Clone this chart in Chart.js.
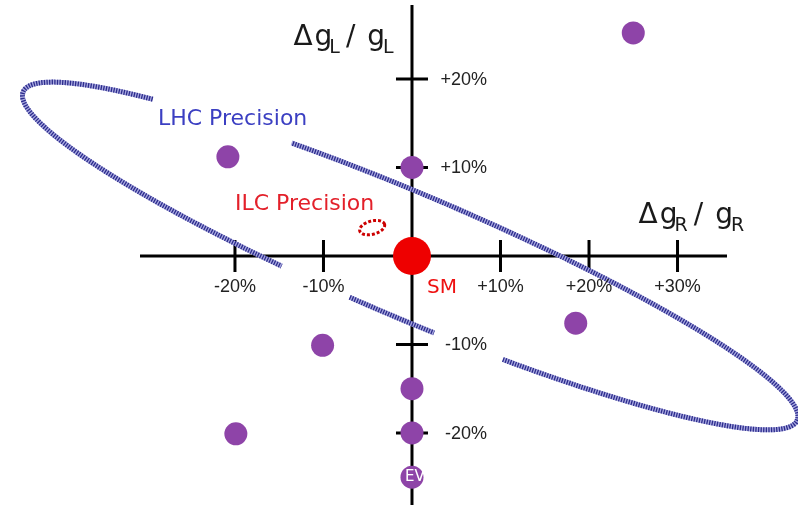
<!DOCTYPE html>
<html lang="en">
<head>
<meta charset="UTF-8">
<title>Coupling deviations</title>
<script src="https://cdn.jsdelivr.net/npm/chart.js"></script>
<style>
    html, body { margin: 0; padding: 0; background: white; }
    #wrap { width: 798px; height: 505px; }
</style>
</head>
<body>
<div id="wrap"><canvas id="chart" width="798" height="505"></canvas></div>
<script>
// model points, deviation of the couplings in %
const modelX = [25, -20.8, 0, 18.5, -10.1, 0, 0, -19.9, 0];
const modelY = [25.2, 11.2, 10, -7.6, -10.1, -15, -20, -20.1, -25];
const smX = [0];
const smY = [0];

// axis ticks
const xTicks = [-20, -10, 10, 20, 30];
const yTicks = [20, 10, -10, -20];
const tickText = v => (v > 0 ? '+' : '') + v + '%';

// precision regions (centre, half axes in %, tilt in degrees)
const lhc = { cx: -0.2, cy: 0, a: 47.5, b: 7, tilt: -23 };
const lhcGaps = [[-105.5, -95.4], [-82.5, -72.6], [111.5, 135.2]];
const ilc = { cx: -4.5, cy: 3.2, a: 1.45, b: 0.75, tilt: 15 };

function ellipseArc(ctx, xs, ys, e, from, to) {
    const r = e.tilt * Math.PI / 180;
    ctx.beginPath();
    for (let d = from; d <= to + 0.001; d += 0.5) {
        const t = d * Math.PI / 180;
        const u = e.a * Math.cos(t), w = e.b * Math.sin(t);
        const px = xs.getPixelForValue(e.cx + u * Math.cos(r) - w * Math.sin(r));
        const py = ys.getPixelForValue(e.cy + u * Math.sin(r) + w * Math.cos(r));
        if (d === from) ctx.moveTo(px, py); else ctx.lineTo(px, py);
    }
    ctx.stroke();
}

// text with a subscript, e.g. Δg_L / g_L
function fraction(ctx, xs, ys, x, y, sub) {
    let px = xs.getPixelForValue(x);
    const py = ys.getPixelForValue(y);
    const big = '28px "DejaVu Sans"', small = '19px "DejaVu Sans"';
    ctx.textAlign = 'left';
    ctx.textBaseline = 'alphabetic';
    ctx.fillStyle = '#1a1a1a';
    ctx.font = big; ctx.fillText('\u0394', px, py); px += ctx.measureText('\u0394').width + 2;
    ctx.fillText('g', px, py); px += ctx.measureText('g').width - 3;
    ctx.font = small; ctx.fillText(sub, px, py + 8); px += ctx.measureText(sub).width + 6;
    ctx.font = big; ctx.fillText('/', px, py); px += ctx.measureText('/').width + 12;
    ctx.fillText('g', px, py); px += ctx.measureText('g').width - 2;
    ctx.font = small; ctx.fillText(sub, px, py + 8);
}

const overlay = {
    id: 'overlay',
    beforeDatasetsDraw(chart) {
        const { ctx, chartArea: area, scales: { x, y } } = chart;
        const x0 = x.getPixelForValue(0), y0 = y.getPixelForValue(0);
        ctx.save();

        // cross axes with ticks
        ctx.strokeStyle = '#000';
        ctx.lineWidth = 3;
        ctx.beginPath();
        ctx.moveTo(area.left, y0); ctx.lineTo(area.right, y0);
        ctx.moveTo(x0, area.top); ctx.lineTo(x0, area.bottom);
        xTicks.forEach(v => {
            const p = x.getPixelForValue(v);
            ctx.moveTo(p, y0 - 16); ctx.lineTo(p, y0 + 16);
        });
        yTicks.forEach(v => {
            const p = y.getPixelForValue(v);
            ctx.moveTo(x0 - 16, p); ctx.lineTo(x0 + 16, p);
        });
        ctx.stroke();

        // LHC ellipse, broken where the labels sit
        const gaps = lhcGaps.map(g => [g[0], g[1]]).sort((a, b) => a[0] - b[0]);
        const arcs = [];
        for (let i = 0; i < gaps.length; i++) {
            const next = gaps[(i + 1) % gaps.length];
            let end = next[0];
            if (end < gaps[i][1]) end += 360;
            arcs.push([gaps[i][1], end]);
        }
        ctx.lineWidth = 5;
        ctx.lineCap = 'butt';
        arcs.forEach(a => {
            ctx.setLineDash([]);
            ctx.strokeStyle = '#a9a9e0';
            ellipseArc(ctx, x, y, lhc, a[0], a[1]);
            ctx.setLineDash([1.3, 1.3]);
            ctx.strokeStyle = '#2c2c8c';
            ellipseArc(ctx, x, y, lhc, a[0], a[1]);
        });

        // ILC ellipse
        ctx.lineWidth = 3;
        ctx.setLineDash([3, 2]);
        ctx.strokeStyle = '#cc0000';
        ellipseArc(ctx, x, y, ilc, 0, 360);
        ctx.restore();
    },
    afterDatasetsDraw(chart) {
        const { ctx, scales: { x, y } } = chart;
        const x0 = x.getPixelForValue(0), y0 = y.getPixelForValue(0);
        ctx.save();

        // tick labels
        ctx.font = '18px "Liberation Sans"';
        ctx.fillStyle = '#222';
        ctx.textAlign = 'center';
        ctx.textBaseline = 'alphabetic';
        xTicks.forEach(v => ctx.fillText(tickText(v), x.getPixelForValue(v), y0 + 36));
        ctx.textAlign = 'right';
        ctx.textBaseline = 'middle';
        yTicks.forEach(v => ctx.fillText(tickText(v), x0 + 75, y.getPixelForValue(v) + 1));

        // region and point labels
        ctx.textAlign = 'left';
        ctx.textBaseline = 'alphabetic';
        ctx.font = '22px "DejaVu Sans"';
        ctx.fillStyle = '#3b3fc2';
        ctx.fillText('LHC Precision', x.getPixelForValue(-28.7), y.getPixelForValue(14.8));
        ctx.fillStyle = '#e3202a';
        ctx.fillText('ILC Precision', x.getPixelForValue(-20.0), y.getPixelForValue(5.2));
        ctx.font = '20px "DejaVu Sans"';
        ctx.fillStyle = '#ee1111';
        ctx.fillText('SM', x.getPixelForValue(1.7), y.getPixelForValue(-4.2));

        ctx.fillStyle = '#fff';
        ctx.font = '15px "DejaVu Sans"';
        ctx.textBaseline = 'middle';
        ctx.fillText('EV', x.getPixelForValue(-0.8), y.getPixelForValue(-25));

        // axis titles
        fraction(ctx, x, y, -13.4, 23.8, 'L');
        fraction(ctx, x, y, 25.6, 3.7, 'R');
        ctx.restore();
    }
};

new Chart(document.getElementById('chart'), {
    type: 'scatter',
    data: {
        datasets: [{
            label: 'Models',
            data: modelX.map((v, i) => ({ x: v, y: modelY[i] })),
            backgroundColor: '#8e44a8',
            borderWidth: 0,
            pointRadius: 11.5,
            clip: false
        }, {
            label: 'SM',
            data: smX.map((v, i) => ({ x: v, y: smY[i] })),
            backgroundColor: '#ee0000',
            borderWidth: 0,
            pointRadius: 19,
            clip: false
        }]
    },
    options: {
        responsive: false,
        animation: false,
        events: [],
        layout: { autoPadding: false, padding: { left: 140, right: 71, top: 5, bottom: 0 } },
        scales: {
            x: { type: 'linear', display: false, min: -30.73, max: 35.59 },
            y: { type: 'linear', display: false, min: -28.14, max: 28.36 }
        },
        plugins: {
            legend: { display: false },
            tooltip: { enabled: false }
        }
    },
    plugins: [overlay]
});
</script>
</body>
</html>
